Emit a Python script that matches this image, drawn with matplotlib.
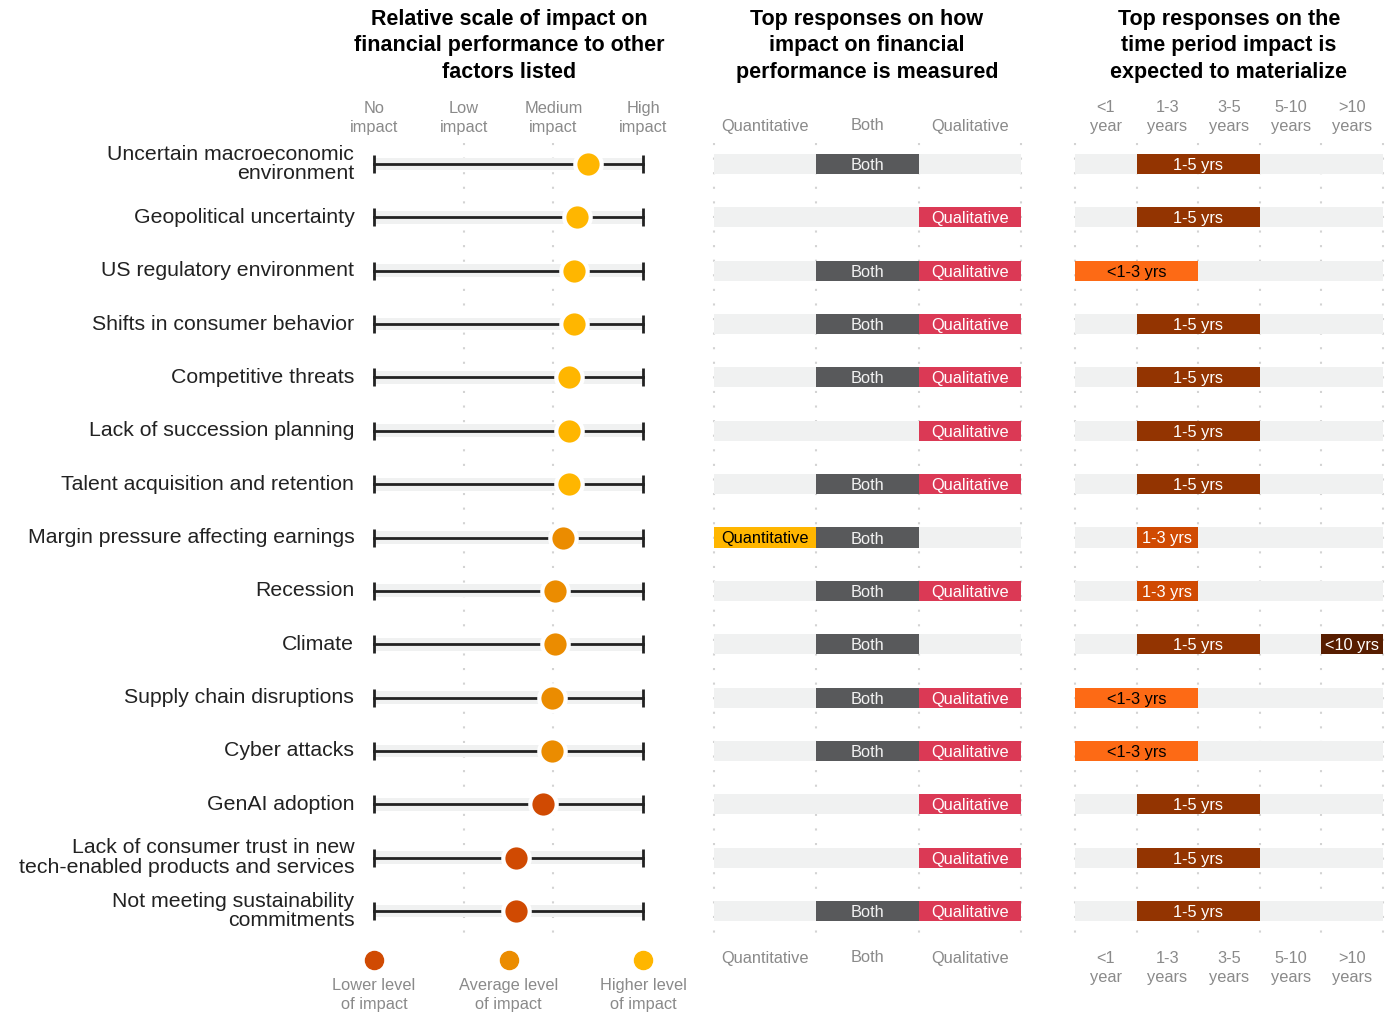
import matplotlib
matplotlib.use("Agg")
import matplotlib.pyplot as plt
from matplotlib.transforms import blended_transform_factory

plt.rcParams['font.family'] = ['Liberation Sans', 'DejaVu Sans']

# data
categories = [
    "Uncertain macroeconomic\nenvironment",
    "Geopolitical uncertainty",
    "US regulatory environment",
    "Shifts in consumer behavior",
    "Competitive threats",
    "Lack of succession planning",
    "Talent acquisition and retention",
    "Margin pressure affecting earnings",
    "Recession",
    "Climate",
    "Supply chain disruptions",
    "Cyber attacks",
    "GenAI adoption",
    "Lack of consumer trust in new\ntech-enabled products and services",
    "Not meeting sustainability\ncommitments",
]
impact_score = [2.39, 2.26, 2.23, 2.23, 2.17, 2.17, 2.17, 2.11, 2.02, 2.02,
                1.98, 1.98, 1.88, 1.58, 1.58]
impact_level = ["Higher", "Higher", "Higher", "Higher", "Higher", "Higher", "Higher",
                "Average", "Average", "Average", "Average", "Average",
                "Lower", "Lower", "Lower"]
impact_ticks = ["No\nimpact", "Low\nimpact", "Medium\nimpact", "High\nimpact"]

measure_cols = ["Quantitative", "Both", "Qualitative"]
measure_responses = [
    ["Both"],
    ["Qualitative"],
    ["Both", "Qualitative"],
    ["Both", "Qualitative"],
    ["Both", "Qualitative"],
    ["Qualitative"],
    ["Both", "Qualitative"],
    ["Quantitative", "Both"],
    ["Both", "Qualitative"],
    ["Both"],
    ["Both", "Qualitative"],
    ["Both", "Qualitative"],
    ["Qualitative"],
    ["Qualitative"],
    ["Both", "Qualitative"],
]

time_cols = ["<1\nyear", "1-3\nyears", "3-5\nyears", "5-10\nyears", ">10\nyears"]
time_responses = [
    ["1-5 yrs"],
    ["1-5 yrs"],
    ["<1-3 yrs"],
    ["1-5 yrs"],
    ["1-5 yrs"],
    ["1-5 yrs"],
    ["1-5 yrs"],
    ["1-3 yrs"],
    ["1-3 yrs"],
    ["1-5 yrs", "<10 yrs"],
    ["<1-3 yrs"],
    ["<1-3 yrs"],
    ["1-5 yrs"],
    ["1-5 yrs"],
    ["1-5 yrs"],
]

# styling
dot_colors = {"Higher": "#FFB600", "Average": "#EB8C00", "Lower": "#D04A02"}
measure_style = {"Quantitative": ("#FFB600", "black"),
                 "Both": ("#58595B", "#f2f2f2"),
                 "Qualitative": ("#DB3955", "white")}
time_span = {"<1-3 yrs": (0, 2), "1-3 yrs": (1, 1), "1-5 yrs": (1, 2), "<10 yrs": (4, 1)}
time_style = {"<1-3 yrs": ("#FD6A15", "black"),
              "1-3 yrs": ("#D04A02", "white"),
              "1-5 yrs": ("#933401", "white"),
              "<10 yrs": ("#571D00", "white")}
band = "#F0F1F1"
grey_txt = "#8a8a8a"
grid_c = "#d3d3d3"
tick_fs = 11.8
bar_fs = 11.8

W, H = 1389, 1017
fig = plt.figure(figsize=(W / 100, H / 100), dpi=100)

top_px, bot_px = 137.3, 937.7
def axes_at(x0, x1):
    return fig.add_axes([x0 / W, 1 - bot_px / H, (x1 - x0) / W, (bot_px - top_px) / H])

n = len(categories)
rows = list(range(n))

ax1 = axes_at(374, 643)
ax2 = axes_at(714, 1021)
ax3 = axes_at(1075, 1383)
for ax in (ax1, ax2, ax3):
    ax.set_ylim(n - 0.5, -0.5)
    ax.axis("off")

grid_ls = (0, (1, 6))
ymin_g, ymax_g = -0.4, n - 0.52

# ---- left panel: dot plot ----
ax1.set_xlim(0, 3)
for gx in [1, 2]:
    ax1.plot([gx, gx], [ymin_g, ymax_g], color=grid_c, lw=1.5, ls=grid_ls, clip_on=False, zorder=0)
for i in rows:
    ax1.barh(i, 3, left=0, height=0.24, color=band, zorder=1)
    ax1.plot([0, 3], [i, i], color="#222222", lw=2, zorder=2, clip_on=False)
    ax1.plot([0, 3], [i, i], ls="none", marker="|", ms=13, mew=2, color="#222222", zorder=2, clip_on=False)
    ax1.plot(impact_score[i], i, "o", ms=19, mfc=dot_colors[impact_level[i]], mec="white", mew=3,
             zorder=3, clip_on=False)
    ax1.text(-0.22, i, categories[i], ha="right", va="center", fontsize=15.3, color="#222222",
             linespacing=1.05)

tr1 = blended_transform_factory(ax1.transData, fig.transFigure)
for k, lab in enumerate(impact_ticks):
    ax1.text(k, 1 - 118 / H, lab, transform=tr1, ha="center", va="center", fontsize=tick_fs,
             color=grey_txt, linespacing=1.3)

# legend below
legend_items = [("Lower", 0, "Lower level\nof impact"),
                ("Average", 1.5, "Average level\nof impact"),
                ("Higher", 3, "Higher level\nof impact")]
for lvl, lx, lab in legend_items:
    ax1.plot(lx, 1 - 960 / H, "o", ms=13, color=dot_colors[lvl], transform=tr1, clip_on=False)
    ax1.text(lx, 1 - 995 / H, lab, transform=tr1, ha="center", va="center", fontsize=tick_fs,
             color=grey_txt, linespacing=1.3)

# ---- middle panel: how impact is measured ----
ax2.set_xlim(0, 3)
for gx in range(4):
    ax2.plot([gx, gx], [ymin_g, ymax_g], color=grid_c, lw=1.5, ls=grid_ls, clip_on=False, zorder=0)
for i in rows:
    ax2.barh(i, 3, left=0, height=0.375, color=band, zorder=1)
    for resp in measure_responses[i]:
        c = measure_cols.index(resp)
        fc, tc = measure_style[resp]
        ax2.barh(i, 1, left=c, height=0.375, color=fc, zorder=2)
        ax2.text(c + 0.5, i, resp, ha="center", va="center_baseline", fontsize=bar_fs, color=tc, zorder=3)

tr2 = blended_transform_factory(ax2.transData, fig.transFigure)
for k, lab in enumerate(measure_cols):
    for yy in (126, 958):
        ax2.text(k + 0.5, 1 - yy / H, lab, transform=tr2, ha="center", va="center",
                 fontsize=tick_fs, color=grey_txt)

# ---- right panel: time period ----
ax3.set_xlim(0, 5)
for gx in range(6):
    ax3.plot([gx, gx], [ymin_g, ymax_g], color=grid_c, lw=1.5, ls=grid_ls, clip_on=False, zorder=0)
for i in rows:
    ax3.barh(i, 5, left=0, height=0.375, color=band, zorder=1)
    for resp in time_responses[i]:
        start, span = time_span[resp]
        fc, tc = time_style[resp]
        ax3.barh(i, span, left=start, height=0.375, color=fc, zorder=2)
        ax3.text(start + span / 2, i, resp, ha="center", va="center_baseline", fontsize=bar_fs,
                 color=tc, zorder=3)

tr3 = blended_transform_factory(ax3.transData, fig.transFigure)
for k, lab in enumerate(time_cols):
    for yy in (117, 968):
        ax3.text(k + 0.5, 1 - yy / H, lab, transform=tr3, ha="center", va="center",
                 fontsize=tick_fs, color=grey_txt, linespacing=1.3)

# ---- titles ----
titles = [(509, "Relative scale of impact on\nfinancial performance to other\nfactors listed"),
          (867, "Top responses on how\nimpact on financial\nperformance is measured"),
          (1229, "Top responses on the\ntime period impact is\nexpected to materialize")]
for tx, t in titles:
    fig.text(tx / W, 1 - 46 / H, t, ha="center", va="center", fontsize=15.5,
             fontweight="bold", color="black", linespacing=1.33)

fig.savefig("out.png", dpi=100, facecolor="white")
